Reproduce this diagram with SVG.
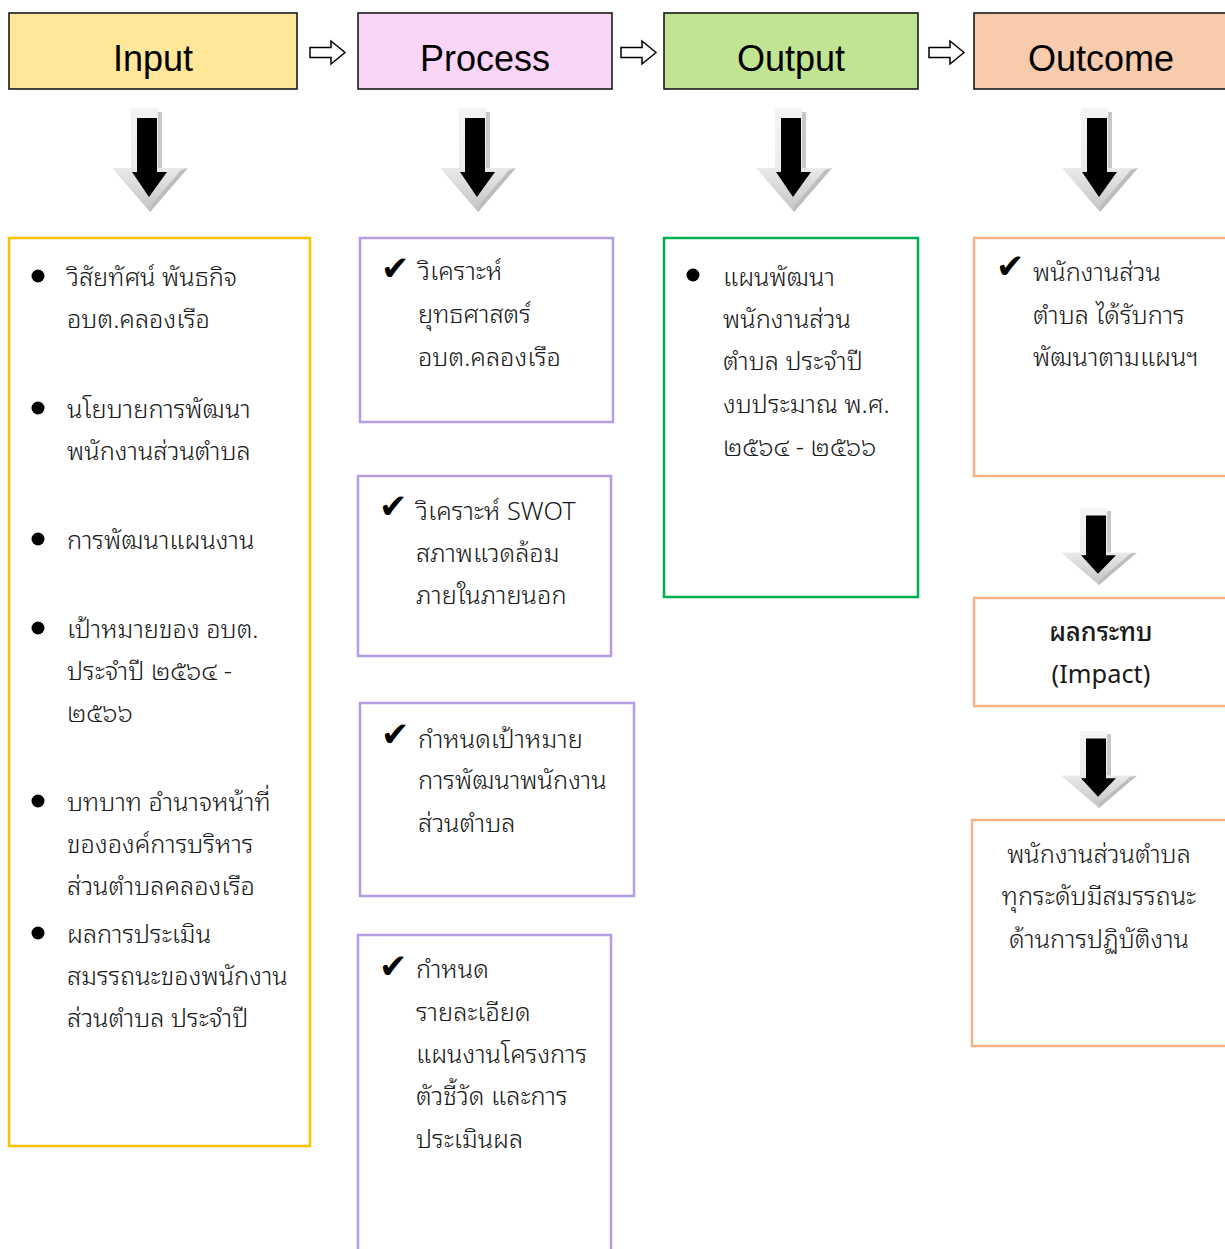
<svg xmlns="http://www.w3.org/2000/svg" width="1225" height="1249" viewBox="0 0 1225 1249">
<style>
.hd{stroke:#1a1a1a;stroke-width:1.6}
.ht{font-family:"Liberation Sans",Arial,sans-serif;font-size:36px;fill:#000;text-anchor:middle}
.th{font-family:"Noto Sans Thai Looped","Noto Sans","Noto Sans Thai",Tahoma,sans-serif;font-size:25.4px;font-weight:300;fill:#1a1a1a}
.ck{font-family:"DejaVu Sans",sans-serif;font-size:34px;fill:#000}
.box{fill:#fff;stroke-width:2.5}
.bl{fill:#000}
.ha{fill:#fff;stroke:#000;stroke-width:1.5;stroke-linejoin:miter}
</style>
<defs>
<linearGradient id="lg" x1="0" y1="0" x2="0" y2="1">
<stop offset="0" stop-color="#f4f4f4"/>
<stop offset="0.55" stop-color="#ececec"/>
<stop offset="1" stop-color="#c4c4c4"/>
</linearGradient>
<g id="darr">
<polygon points="-19,0 8,0 8,60 38,60 0,104 -38,60 -19,60" fill="url(#lg)"/>
<polygon points="8,4 12,4 12,60 8,60" fill="#c8c8c8"/>
<polygon points="38,60 0,104 0,98 31,62" fill="#bdbdbd"/>
<polygon points="-13,10 7,10 7,64 17,64 -1,89 -18,64 -13,64" fill="#000"/>
</g>
</defs>
<rect width="1225" height="1249" fill="#fff"/>

<g id="connectors">
<polygon class="ha" points="310,47.5 331,47.5 331,41 345,52.5 331,64 331,57.5 310,57.5"/>
<polygon class="ha" points="621,47.5 642,47.5 642,41 656,52.5 642,64 642,57.5 621,57.5"/>
<polygon class="ha" points="929,47.5 950,47.5 950,41 964,52.5 950,64 950,57.5 929,57.5"/>
<use href="#darr" transform="translate(150,108)"/>
<use href="#darr" transform="translate(478,108)"/>
<use href="#darr" transform="translate(794,108)"/>
<use href="#darr" transform="translate(1100,108)"/>
<use href="#darr" transform="translate(1099,508) scale(1,0.74)"/>
<use href="#darr" transform="translate(1099,731) scale(1,0.74)"/>
</g>

<g id="h-input"><rect class="hd" x="9" y="13" width="288" height="76" fill="#FFE699"/><text class="ht" x="153" y="71">Input</text></g>
<g id="h-process"><rect class="hd" x="358" y="13" width="254" height="76" fill="#F9D5F8"/><text class="ht" x="485" y="71">Process</text></g>
<g id="h-output"><rect class="hd" x="664" y="13" width="254" height="76" fill="#C0E491"/><text class="ht" x="791" y="71">Output</text></g>
<g id="h-outcome"><rect class="hd" x="974" y="13" width="260" height="76" fill="#F8CBAD"/><text class="ht" x="1101" y="71">Outcome</text></g>

<g id="input-box">
<rect class="box" x="9" y="238" width="301" height="908" stroke="#FFC000"/>
<circle class="bl" cx="38" cy="276" r="6.5"/>
<circle class="bl" cx="38" cy="408" r="6.5"/>
<circle class="bl" cx="38" cy="539" r="6.5"/>
<circle class="bl" cx="38" cy="628" r="6.5"/>
<circle class="bl" cx="38" cy="801" r="6.5"/>
<circle class="bl" cx="38" cy="933" r="6.5"/>
<text class="th" x="67">
<tspan x="67" y="286">วิสัยทัศน์ พันธกิจ</tspan>
<tspan x="67" y="328">อบต.คลองเรือ</tspan>
<tspan x="67" y="418">นโยบายการพัฒนา</tspan>
<tspan x="67" y="460">พนักงานส่วนตำบล</tspan>
<tspan x="67" y="549">การพัฒนาแผนงาน</tspan>
<tspan x="67" y="638">เป้าหมายของ อบต.</tspan>
<tspan x="67" y="680">ประจำปี ๒๕๖๔ -</tspan>
<tspan x="67" y="722">๒๕๖๖</tspan>
<tspan x="67" y="811">บทบาท อำนาจหน้าที่</tspan>
<tspan x="67" y="853">ขององค์การบริหาร</tspan>
<tspan x="67" y="895">ส่วนตำบลคลองเรือ</tspan>
<tspan x="67" y="943">ผลการประเมิน</tspan>
<tspan x="67" y="985">สมรรถนะของพนักงาน</tspan>
<tspan x="67" y="1027">ส่วนตำบล ประจำปี</tspan>
</text>
</g>

<g id="process-1">
<rect class="box" x="360" y="238" width="253" height="184" stroke="#B69CE3"/>
<text class="ck" x="381" y="280">✔</text>
<text class="th"><tspan x="418" y="280">วิเคราะห์</tspan><tspan x="418" y="323">ยุทธศาสตร์</tspan><tspan x="418" y="366">อบต.คลองเรือ</tspan></text>
</g>
<g id="process-2">
<rect class="box" x="358" y="476" width="253" height="180" stroke="#B69CE3"/>
<text class="ck" x="379" y="518">✔</text>
<text class="th"><tspan x="416" y="520">วิเคราะห์ SWOT</tspan><tspan x="416" y="562">สภาพแวดล้อม</tspan><tspan x="416" y="604">ภายในภายนอก</tspan></text>
</g>
<g id="process-3">
<rect class="box" x="360" y="703" width="274" height="193" stroke="#B69CE3"/>
<text class="ck" x="381" y="746">✔</text>
<text class="th"><tspan x="418" y="748">กำหนดเป้าหมาย</tspan><tspan x="418" y="789">การพัฒนาพนักงาน</tspan><tspan x="418" y="832">ส่วนตำบล</tspan></text>
</g>
<g id="process-4">
<rect class="box" x="358" y="935" width="253" height="330" stroke="#B69CE3"/>
<text class="ck" x="379" y="978">✔</text>
<text class="th"><tspan x="416" y="978">กำหนด</tspan><tspan x="416" y="1021">รายละเอียด</tspan><tspan x="416" y="1063">แผนงานโครงการ</tspan><tspan x="416" y="1105">ตัวชี้วัด และการ</tspan><tspan x="416" y="1148">ประเมินผล</tspan></text>
</g>

<g id="output-box">
<rect class="box" x="664" y="238" width="254" height="359" stroke="#00B050"/>
<circle class="bl" cx="693" cy="275" r="6.5"/>
<text class="th"><tspan x="723" y="286">แผนพัฒนา</tspan><tspan x="723" y="328">พนักงานส่วน</tspan><tspan x="723" y="370">ตำบล ประจำปี</tspan><tspan x="723" y="413">งบประมาณ พ.ศ.</tspan><tspan x="723" y="456">๒๕๖๔ - ๒๕๖๖</tspan></text>
</g>

<g id="outcome-1">
<rect class="box" x="974" y="238" width="260" height="238" stroke="#F4B183"/>
<text class="ck" x="996" y="278">✔</text>
<text class="th"><tspan x="1033" y="281">พนักงานส่วน</tspan><tspan x="1033" y="324">ตำบล ได้รับการ</tspan><tspan x="1033" y="366">พัฒนาตามแผนฯ</tspan></text>
</g>
<g id="impact">
<rect class="box" x="974" y="598" width="260" height="108" stroke="#F4B183"/>
<text class="th" text-anchor="middle" style="font-weight:500"><tspan x="1101" y="641">ผลกระทบ</tspan></text>
<text class="th" text-anchor="middle" style="font-weight:400"><tspan x="1101" y="683">(Impact)</tspan></text>
</g>
<g id="outcome-final">
<rect class="box" x="972" y="820" width="262" height="226" stroke="#F4B183"/>
<text class="th" text-anchor="middle"><tspan x="1099" y="863">พนักงานส่วนตำบล</tspan><tspan x="1099" y="905">ทุกระดับมีสมรรถนะ</tspan><tspan x="1099" y="948">ด้านการปฏิบัติงาน</tspan></text>
</g>
</svg>
